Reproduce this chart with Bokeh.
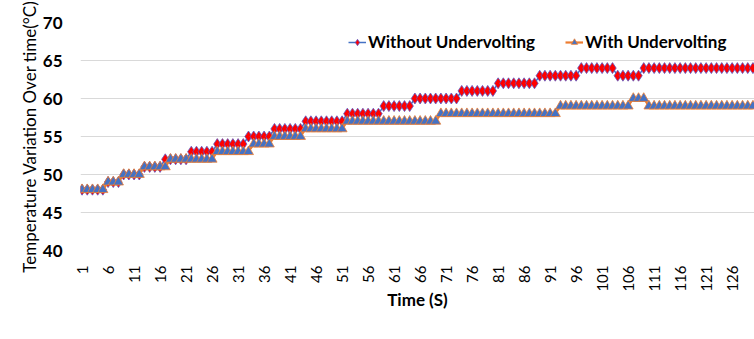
from bokeh.plotting import figure
from bokeh.models import Legend, LegendItem, FixedTicker, Range1d
from bokeh.embed import file_html
from bokeh.resources import INLINE
import math

time_s = list(range(1, 131))

without_undervolting = [
    48, 48, 48, 48, 48, 49, 49, 49, 50, 50,
    50, 50, 51, 51, 51, 51, 52, 52, 52, 52,
    52, 53, 53, 53, 53, 53, 54, 54, 54, 54,
    54, 54, 55, 55, 55, 55, 55, 56, 56, 56,
    56, 56, 56, 57, 57, 57, 57, 57, 57, 57,
    57, 58, 58, 58, 58, 58, 58, 58, 59, 59,
    59, 59, 59, 59, 60, 60, 60, 60, 60, 60,
    60, 60, 60, 61, 61, 61, 61, 61, 61, 61,
    62, 62, 62, 62, 62, 62, 62, 62, 63, 63,
    63, 63, 63, 63, 63, 63, 64, 64, 64, 64,
    64, 64, 64, 63, 63, 63, 63, 63, 64, 64,
    64, 64, 64, 64, 64, 64, 64, 64, 64, 64,
    64, 64, 64, 64, 64, 64, 64, 64, 64, 64,
]

with_undervolting = [
    48, 48, 48, 48, 48, 49, 49, 49, 50, 50,
    50, 50, 51, 51, 51, 51, 51, 52, 52, 52,
    52, 52, 52, 52, 52, 52, 53, 53, 53, 53,
    53, 53, 53, 54, 54, 54, 54, 55, 55, 55,
    55, 55, 55, 56, 56, 56, 56, 56, 56, 56,
    56, 57, 57, 57, 57, 57, 57, 57, 57, 57,
    57, 57, 57, 57, 57, 57, 57, 57, 57, 58,
    58, 58, 58, 58, 58, 58, 58, 58, 58, 58,
    58, 58, 58, 58, 58, 58, 58, 58, 58, 58,
    58, 58, 59, 59, 59, 59, 59, 59, 59, 59,
    59, 59, 59, 59, 59, 59, 60, 60, 60, 59,
    59, 59, 59, 59, 59, 59, 59, 59, 59, 59,
    59, 59, 59, 59, 59, 59, 59, 59, 59, 59,
]

x_ticks = list(range(1, 131, 5))
y_ticks = [40, 45, 50, 55, 60, 65, 70]

FONT = "Lato"

p = figure(width=754, height=339, output_backend="svg", toolbar_location=None,
           x_range=Range1d(0.7, 130.3), y_range=Range1d(40, 70),
           min_border_left=80, min_border_right=0, min_border_top=22,
           min_border_bottom=89)
p.outline_line_color = None
p.background_fill_color = "white"
p.border_fill_color = "white"

p.xgrid.grid_line_color = None
p.ygrid.grid_line_color = "#D9D9D9"
p.ygrid.grid_line_width = 1

p.xaxis.ticker = FixedTicker(ticks=x_ticks)
p.yaxis.ticker = FixedTicker(ticks=y_ticks)
for ax in (p.xaxis[0], p.yaxis[0]):
    ax.axis_line_color = None
    ax.major_tick_line_color = None
    ax.minor_tick_line_color = None
    ax.major_label_text_font = FONT
    ax.axis_label_text_font = FONT
    ax.major_label_text_color = "black"
    ax.axis_label_text_color = "black"

p.xaxis.major_label_orientation = math.pi / 2
p.xaxis.major_label_text_font_size = "15px"
p.xaxis.major_label_text_font_style = "normal"
p.xaxis.major_label_standoff = 9
p.xaxis.axis_label = "Time (S)"
p.xaxis.axis_label_text_font_size = "17px"
p.xaxis.axis_label_text_font_style = "bold"
p.xaxis.axis_label_standoff = -6

p.yaxis.major_label_text_font_size = "17px"
p.yaxis.major_label_text_font_style = "bold"
p.yaxis.major_label_standoff = 12
p.yaxis.axis_label = "Temperature Variation Over time(\u00b0C)"
p.yaxis.axis_label_text_font_size = "17px"
p.yaxis.axis_label_text_font_style = "normal"
p.yaxis.axis_label_standoff = 0

r1_line = p.line(time_s, without_undervolting, line_color="#4472C4", line_width=1.5)
r1_mark = p.scatter(time_s, without_undervolting, marker="diamond", size=11,
                    fill_color="#FF0000", line_color="#5B5BC8", line_width=0.8)
r2_line = p.line(time_s, with_undervolting, line_color="#ED7D31", line_width=2.2)
r2_mark = p.scatter(time_s, with_undervolting, marker="triangle", size=10,
                    fill_color="#4472C4", line_color="#ED7D31", line_width=0.8)

legend = Legend(items=[
    LegendItem(label="Without Undervolting", renderers=[r1_line, r1_mark]),
    LegendItem(label="With Undervolting", renderers=[r2_line, r2_mark]),
], orientation="horizontal", location=(268, 198), padding=0, margin=0,
    spacing=30, glyph_width=18, glyph_height=16, label_standoff=2,
    border_line_alpha=0, background_fill_alpha=0,
    label_text_font=FONT, label_text_font_size="17px",
    label_text_font_style="bold", label_text_color="black")
p.add_layout(legend, "center")

open("out.html", "w").write(file_html(p, INLINE))
